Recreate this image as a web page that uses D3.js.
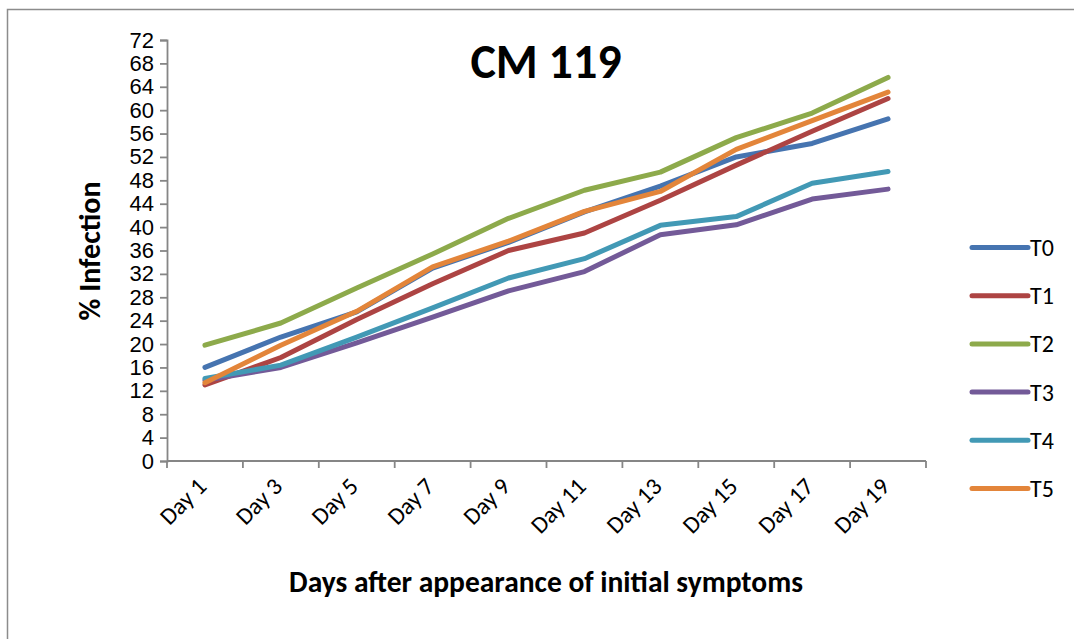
<!DOCTYPE html>
<html>
<head>
<meta charset="utf-8">
<script src="https://cdn.jsdelivr.net/npm/d3@7"></script>
<style>
  html, body { margin: 0; padding: 0; background: #fff; }
  svg { display: block; font-family: Carlito, Lato, "Open Sans", sans-serif; }
</style>
</head>
<body>
<svg id="chart" width="1074" height="639"></svg>
<script>
// Percent infection of CM 119 under six treatments, every second day
const days = ["Day 1", "Day 3", "Day 5", "Day 7", "Day 9", "Day 11", "Day 13", "Day 15", "Day 17", "Day 19"];
const seriesNames = ["T0", "T1", "T2", "T3", "T4", "T5"];
const T0 = [16.0, 21.2, 25.5, 33.0, 37.4, 42.6, 47.0, 52.0, 54.3, 58.5];
const T1 = [13.0, 17.7, 24.2, 30.3, 36.0, 39.0, 44.6, 50.6, 56.4, 62.0];
const T2 = [19.8, 23.6, 29.6, 35.4, 41.5, 46.3, 49.4, 55.3, 59.5, 65.6];
const T3 = [13.8, 16.0, 20.2, 24.6, 29.1, 32.4, 38.7, 40.4, 44.8, 46.5];
const T4 = [14.1, 16.4, 21.2, 26.2, 31.3, 34.6, 40.3, 41.8, 47.5, 49.5];
const T5 = [13.4, 19.8, 25.6, 33.2, 37.6, 42.7, 46.1, 53.3, 58.2, 63.1];
const yTicks = d3.range(0, 73, 4);
const colors = ["#4674B0", "#AD4443", "#8DAA4B", "#735A98", "#4299B5", "#E3853A"];

const series = [T0, T1, T2, T3, T4, T5];
const svg = d3.select("#chart");

// chart frame
svg.append("rect")
  .attr("x", 7.5).attr("y", 9.5)
  .attr("width", 1100).attr("height", 700)
  .attr("fill", "none").attr("stroke", "#8c8c8c").attr("stroke-width", 1.5);

const x = d3.scaleBand().domain(days).range([167, 926]);
const y = d3.scaleLinear().domain([0, 72]).range([461, 40]);
const axisColor = "#868686";

// y axis
const gy = svg.append("g").attr("transform", "translate(167,0)")
  .call(d3.axisLeft(y).tickValues(yTicks).tickSize(7).tickPadding(6));
gy.select(".domain").attr("stroke", axisColor).attr("stroke-width", 1.8);
gy.selectAll(".tick line").attr("stroke", axisColor).attr("stroke-width", 1.8);
gy.selectAll(".tick text").attr("font-size", 22).attr("fill", "#000");

// x axis with ticks on band boundaries
const gx = svg.append("g").attr("transform", "translate(0,461)");
gx.append("line").attr("x1", 167).attr("x2", 926).attr("stroke", axisColor).attr("stroke-width", 1.8);
const bounds = days.map(d => x(d)).concat([926]);
gx.selectAll("line.tk").data(bounds).join("line").attr("class", "tk")
  .attr("x1", d => d).attr("x2", d => d).attr("y1", 0).attr("y2", 7)
  .attr("stroke", axisColor).attr("stroke-width", 1.8);
gx.selectAll("text").data(days).join("text")
  .attr("transform", d => `translate(${x(d) + x.bandwidth() / 2 - 3},${21}) rotate(-45)`)
  .attr("text-anchor", "end").attr("dy", "0.35em")
  .attr("font-size", 24).attr("fill", "#000")
  .text(d => d);

// lines
const line = d3.line()
  .x((v, i) => x(days[i]) + x.bandwidth() / 2)
  .y(v => y(v));
svg.append("g").selectAll("path").data(series).join("path")
  .attr("d", line)
  .attr("fill", "none")
  .attr("stroke", (d, i) => colors[i])
  .attr("stroke-width", 5)
  .attr("stroke-linecap", "round")
  .attr("stroke-linejoin", "round");

// title
svg.append("text").attr("x", 546).attr("y", 78).attr("text-anchor", "middle")
  .attr("font-size", 48).attr("font-weight", "bold").text("CM 119");

// axis titles
svg.append("text").attr("transform", "translate(100,251) rotate(-90)")
  .attr("text-anchor", "middle").attr("font-size", 30).attr("font-weight", "bold")
  .text("% Infection");
svg.append("text").attr("x", 546).attr("y", 592).attr("text-anchor", "middle")
  .attr("font-size", 29.5).attr("font-weight", "bold")
  .text("Days after appearance of initial symptoms");

// legend
const lg = svg.append("g").selectAll("g").data(seriesNames).join("g")
  .attr("transform", (d, i) => `translate(972,${247.5 + i * 48.2})`);
lg.append("line").attr("x1", 0).attr("x2", 56)
  .attr("stroke", (d, i) => colors[i]).attr("stroke-width", 5).attr("stroke-linecap", "round");
lg.append("text").attr("x", 58).attr("dy", "0.35em").attr("font-size", 24).text(d => d);
</script>
</body>
</html>
